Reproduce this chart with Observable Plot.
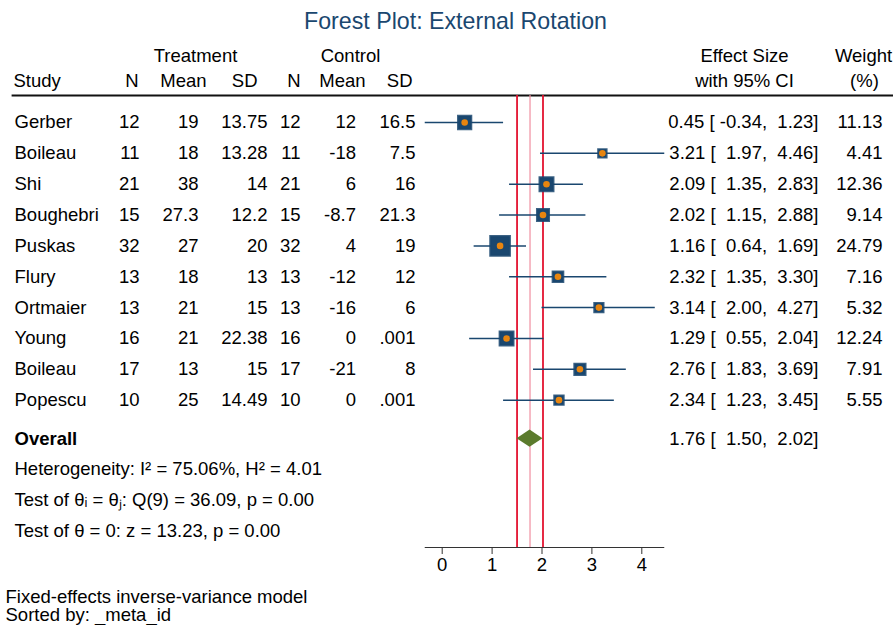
<!DOCTYPE html>
<html>
<head>
<meta charset="utf-8">
<script src="https://cdn.jsdelivr.net/npm/d3@7"></script>
<script src="https://cdn.jsdelivr.net/npm/@observablehq/plot@0.6"></script>
<style>
  html, body { margin: 0; padding: 0; background: #fff; }
</style>
</head>
<body>
<div id="chart"></div>
<script>
// ---------------- data ----------------
const studies = ["Gerber", "Boileau", "Shi", "Boughebri", "Puskas", "Flury", "Ortmaier", "Young", "Boileau", "Popescu"];
const treatN    = [12, 11, 21, 15, 32, 13, 13, 16, 17, 10];
const treatMean = [19, 18, 38, 27.3, 27, 18, 21, 21, 13, 25];
const treatSD   = [13.75, 13.28, 14, 12.2, 20, 13, 15, 22.38, 15, 14.49];
const ctrlN     = [12, 11, 21, 15, 32, 13, 13, 16, 17, 10];
const ctrlMean  = [12, -18, 6, -8.7, 4, -12, -16, 0, -21, 0];
const ctrlSD    = [16.5, 7.5, 16, 21.3, 19, 12, 6, 0.001, 8, 0.001];
const effect    = [0.45, 3.21, 2.09, 2.02, 1.16, 2.32, 3.14, 1.29, 2.76, 2.34];
const ciLow     = [-0.34, 1.97, 1.35, 1.15, 0.64, 1.35, 2.00, 0.55, 1.83, 1.23];
const ciHigh    = [1.23, 4.46, 2.83, 2.88, 1.69, 3.30, 4.27, 2.04, 3.69, 3.45];
const weight    = [11.13, 4.41, 12.36, 9.14, 24.79, 7.16, 5.32, 12.24, 7.91, 5.55];
const overallES = 1.76, overallLow = 1.50, overallHigh = 2.02;
const xTicks = [0, 1, 2, 3, 4];
const titleText = "Forest Plot: External Rotation";
const summaryLines = [
  "Heterogeneity: I\u00B2 = 75.06%, H\u00B2 = 4.01",
  "Test of \u03B8\u1D62 = \u03B8\u2C7C: Q(9) = 36.09, p = 0.00",
  "Test of \u03B8 = 0: z = 13.23, p = 0.00"
];
const footnotes = ["Fixed-effects inverse-variance model", "Sorted by: _meta_id"];

// ---------------- layout / style ----------------
const W = 893, H = 625;
const FONT = "'Liberation Sans', Arial, Helvetica, sans-serif";
const FS = 18.5;
const navy = "#1a476f", orange = "#e8850f", green = "#5b7b2d", red = "#e3122f", pink = "#f08fa0";
const mTop = 95, mBottom = 78, mLeft = 12, mRight = 0;
const rowPx = 30.85, firstRowPx = 122;
const yDomain = [(mTop - firstRowPx) / rowPx, (H - mBottom - firstRowPx) / rowPx];

const fmtNum = v => String(v).replace(/^(-?)0\./, "$1.");
const f2 = v => v.toFixed(2);
const pad = (s, n) => s.padStart(n, " ");
const nb = s => s.replace(/ /g, "\u00A0");

const nS = studies.length;
const rows = studies.map((s, i) => ({
  study: s, row: i,
  tN: treatN[i], tMean: treatMean[i], tSD: treatSD[i],
  cN: ctrlN[i], cMean: ctrlMean[i], cSD: ctrlSD[i],
  es: effect[i], lo: ciLow[i], hi: ciHigh[i], w: weight[i],
  esText: nb(`${f2(effect[i])} [${pad(f2(ciLow[i]), 6)},${pad(f2(ciHigh[i]), 6)}]`),
  wText: f2(weight[i])
}));
const ovRow = nS + 0.25;
const ovText = nb(`${f2(overallES)} [${pad(f2(overallLow), 6)},${pad(f2(overallHigh), 6)}]`);
const diamond = [
  {x: overallLow, y1: ovRow, y2: ovRow},
  {x: overallES, y1: ovRow - 0.28, y2: ovRow + 0.28},
  {x: overallHigh, y1: ovRow, y2: ovRow}
];

// columns: key, anchor, pixel x
const cols = [
  {key: "study", anchor: "start", x: 14, fmt: d => d},
  {key: "tN", anchor: "end", x: 139, fmt: fmtNum},
  {key: "tMean", anchor: "end", x: 198, fmt: fmtNum},
  {key: "tSD", anchor: "end", x: 267, fmt: fmtNum},
  {key: "cN", anchor: "end", x: 300, fmt: fmtNum},
  {key: "cMean", anchor: "end", x: 355.5, fmt: fmtNum},
  {key: "cSD", anchor: "end", x: 415, fmt: fmtNum},
  {key: "esText", anchor: "end", x: 818, fmt: d => d},
  {key: "wText", anchor: "end", x: 882, fmt: d => d}
];
// header labels: text, pixel x, pixel center y, anchor
const headers = [
  ["Treatment", 195, 56, "middle"], ["Control", 350, 56, "middle"],
  ["Effect Size", 744, 56, "middle"], ["Weight", 863, 56, "middle"],
  ["Study", 13, 81, "start"], ["N", 138, 81, "end"], ["Mean", 206, 81, "end"], ["SD", 257, 81, "end"],
  ["N", 300, 81, "end"], ["Mean", 365, 81, "end"], ["SD", 412, 81, "end"],
  ["with 95% CI", 744, 81, "middle"], ["(%)", 864, 81, "middle"]
];

const label = (str, x, cy, anchor, extra = {}) => Plot.text([str], {
  text: d => d, frameAnchor: "top-left", dx: x - mLeft, dy: cy - mTop,
  textAnchor: anchor, lineAnchor: "middle", fontSize: FS, fill: "#000", ...extra
});

const marks = [
  Plot.frame({anchor: "top", stroke: "#111", strokeWidth: 1.8}),
  Plot.ruleX([overallLow, overallHigh], {stroke: red, strokeWidth: 1.8}),
  Plot.ruleX([overallES], {stroke: pink, strokeWidth: 1.2}),
  Plot.ruleY([yDomain[1]], {x1: d3.min(ciLow), x2: d3.max(ciHigh), stroke: "#333", strokeWidth: 1.2}),
  Plot.axisX({ticks: xTicks, tickSize: 7, tickPadding: 3, fontSize: FS, stroke: "#333", fill: "#000", label: null, tickFormat: d => String(d)}),
  Plot.ruleY(rows, {y: "row", x1: "lo", x2: "hi", stroke: navy, strokeWidth: 1.5}),
  Plot.dot(rows, {x: "es", y: "row", r: "w", symbol: "square", fill: navy, stroke: navy, strokeWidth: 2.2, strokeOpacity: 0.85}),
  Plot.dot(rows, {x: "es", y: "row", r: 3.3, fill: orange, stroke: "none"}),
  Plot.areaY(diamond, {x: "x", y1: "y1", y2: "y2", fill: green}),
  ...cols.map(c => Plot.text(rows, {
    y: "row", text: d => c.fmt(d[c.key]), frameAnchor: "left", dx: c.x - mLeft,
    textAnchor: c.anchor, lineAnchor: "middle", fontSize: FS, fill: "#000"
  })),
  Plot.text(["Overall"], {y: () => ovRow, text: d => d, frameAnchor: "left", dx: 14 - mLeft, textAnchor: "start", lineAnchor: "middle", fontSize: FS, fontWeight: "bold", fill: "#000"}),
  Plot.text([ovText], {y: () => ovRow, text: d => d, frameAnchor: "left", dx: 818 - mLeft, textAnchor: "end", lineAnchor: "middle", fontSize: FS, fill: "#000"}),
  Plot.text(summaryLines, {y: (d, i) => ovRow + 1 + i, text: d => d, frameAnchor: "left", dx: 14 - mLeft, textAnchor: "start", lineAnchor: "middle", fontSize: FS, fill: "#000"}),
  ...headers.map(([t, x, cy, a]) => label(t, x, cy, a)),
  label(titleText, 455, 21, "middle", {fontSize: 23.2, fill: navy}),
  ...footnotes.map((t, i) => label(t, 5, 597 + i * 17.2, "start", {fontSize: 18.5}))
];

const chart = Plot.plot({
  width: W, height: H,
  marginTop: mTop, marginBottom: mBottom, marginLeft: mLeft, marginRight: mRight,
  style: {fontFamily: FONT, fontSize: FS + "px", background: "#fff", color: "#000"},
  x: {domain: [0, 4], range: [441.7, 641.3], label: null},
  y: {domain: yDomain, range: [mTop, H - mBottom], axis: null, label: null},
  r: {type: "sqrt", domain: [0, d3.max(weight)], range: [0, 11]},
  marks
});
document.getElementById("chart").appendChild(chart);
</script>
</body>
</html>
